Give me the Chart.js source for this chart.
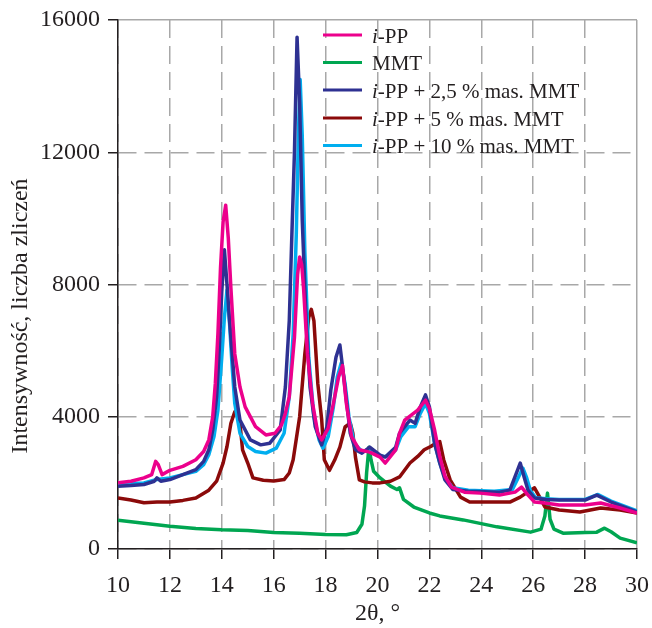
<!DOCTYPE html>
<html>
<head>
<meta charset="utf-8">
<script src="https://cdn.jsdelivr.net/npm/chart.js@4.4.1/dist/chart.umd.min.js"></script>
<style>
  html, body { margin: 0; padding: 0; background: #ffffff; }
  #wrap { width: 652px; height: 628px; }
</style>
</head>
<body>
<div id="wrap"><canvas id="xrd" width="652" height="628"></canvas></div>
<script>
// Dane (2θ w stopniach, intensywność w zliczeniach)
const seriesLabels = ['i-PP', 'MMT', 'i-PP + 2,5 % mas. MMT', 'i-PP + 5 % mas. MMT', 'i-PP + 10 % mas. MMT'];
const seriesColors = ['#ec008c', '#00a651', '#2e3192', '#8b0a0a', '#00aeef'];

const ippX = [10, 10.5, 11, 11.3, 11.45, 11.55, 11.7, 12, 12.5, 13, 13.3, 13.5, 13.65, 13.75, 13.85, 13.95, 14.05, 14.15, 14.25, 14.35, 14.5, 14.7, 14.9, 15.3, 15.7, 16.05, 16.3, 16.45, 16.6, 16.8, 16.92, 17.0, 17.08, 17.15, 17.3, 17.5, 17.7, 17.85, 18.1, 18.3, 18.5, 18.65, 18.8, 19.0, 19.3, 19.7, 20.1, 20.3, 20.7, 20.85, 21.05, 21.3, 21.55, 21.85, 22.0, 22.2, 22.4, 22.6, 22.85, 23.35, 23.95, 24.7, 25.3, 25.55, 25.8, 26.05, 26.45, 27.0, 28.0, 28.6, 29.35, 30];
const ippY = [2000, 2050, 2150, 2250, 2650, 2550, 2250, 2380, 2500, 2700, 2950, 3300, 4000, 5000, 6500, 8500, 9900, 10400, 9400, 7900, 5900, 4900, 4300, 3700, 3450, 3500, 3750, 4100, 4600, 6400, 8300, 8830, 8600, 7900, 5900, 4400, 3500, 3300, 3650, 4400, 5200, 5550, 4400, 3400, 3000, 2930, 2780, 2600, 3000, 3500, 3900, 4050, 4200, 4500, 4250, 3600, 2800, 2200, 1870, 1720, 1690, 1630, 1720, 1870, 1630, 1420, 1390, 1330, 1330, 1390, 1240, 1090];

const mmtX = [10, 11, 12, 13, 14, 15, 16, 17, 18, 18.8, 19.2, 19.4, 19.5, 19.58, 19.67, 19.75, 19.85, 20.1, 20.5, 20.75, 20.85, 21.0, 21.4, 22.0, 22.4, 23.3, 24.6, 25.9, 26.3, 26.45, 26.55, 26.65, 26.8, 27.15, 28.0, 28.45, 28.75, 29.0, 29.35, 30];
const mmtY = [870, 780, 690, 620, 580, 560, 500, 480, 440, 430, 500, 750, 1300, 2300, 3080, 2700, 2350, 2150, 1900, 1800, 1850, 1500, 1270, 1090, 1000, 880, 670, 510, 600, 1000, 1690, 900, 600, 480, 500, 510, 630, 520, 330, 190];

const pp25X = [10, 10.5, 11, 11.4, 11.5, 11.65, 12, 12.5, 13, 13.3, 13.5, 13.65, 13.8, 13.9, 14.0, 14.1, 14.2, 14.3, 14.5, 14.7, 15.1, 15.5, 15.85, 16.25, 16.45, 16.6, 16.7, 16.8, 16.9, 17.0, 17.1, 17.25, 17.4, 17.6, 17.85, 18.05, 18.2, 18.4, 18.55, 18.7, 18.8, 18.95, 19.15, 19.4, 19.7, 20.1, 20.3, 20.7, 20.85, 21.25, 21.45, 21.65, 21.85, 22.0, 22.2, 22.4, 22.6, 22.9, 23.5, 24.7, 25.1, 25.4, 25.5, 25.65, 25.8, 26.05, 26.5, 27.0, 28.0, 28.45, 29.0, 30];
const pp25Y = [1900, 1920, 1950, 2050, 2150, 2050, 2100, 2250, 2400, 2650, 3000, 3600, 4600, 6000, 7800, 9050, 8000, 6900, 4900, 3900, 3300, 3150, 3200, 3600, 4900, 6900, 9500, 12000, 15480, 13500, 9950, 6900, 4900, 3700, 3150, 3700, 4800, 5800, 6170, 5200, 4500, 3500, 3000, 2900, 3080, 2840, 2780, 3080, 3500, 3900, 3800, 4300, 4660, 4300, 3200, 2600, 2090, 1800, 1750, 1720, 1780, 2390, 2600, 2180, 1780, 1540, 1500, 1480, 1480, 1630, 1420, 1120];

const pp5X = [10, 10.5, 11, 11.5, 12, 12.5, 13, 13.5, 13.8, 14.05, 14.2, 14.35, 14.5, 14.6, 14.7, 14.8, 15.0, 15.2, 15.6, 16.0, 16.4, 16.6, 16.75, 17.0, 17.2, 17.35, 17.45, 17.55, 17.7, 17.85, 17.95, 18.15, 18.35, 18.55, 18.75, 18.95, 19.05, 19.15, 19.3, 19.5, 19.8, 20.1, 20.5, 20.85, 21.25, 21.55, 21.8, 22.05, 22.25, 22.4, 22.55, 22.8, 23.2, 23.55, 24.35, 25.1, 25.5, 25.9, 26.05, 26.25, 26.45, 27.0, 27.8, 28.6, 29.35, 30];
const pp5Y = [1540, 1480, 1400, 1420, 1420, 1470, 1540, 1780, 2050, 2600, 3100, 3800, 4150, 4200, 3800, 3000, 2600, 2150, 2080, 2060, 2100, 2300, 2700, 4000, 5900, 7000, 7250, 6900, 5000, 3900, 2700, 2380, 2690, 3080, 3690, 3810, 3500, 2780, 2090, 2030, 2000, 2000, 2050, 2180, 2600, 2800, 3000, 3100, 3200, 3250, 2700, 2090, 1570, 1420, 1420, 1420, 1570, 1780, 1850, 1570, 1270, 1180, 1120, 1240, 1180, 1090];

const pp10X = [10, 10.5, 11, 11.5, 12, 12.5, 13, 13.3, 13.5, 13.7, 13.85, 14.0, 14.1, 14.2, 14.3, 14.4, 14.5, 14.7, 15.0, 15.3, 15.7, 16.1, 16.4, 16.6, 16.75, 16.87, 16.95, 17.02, 17.1, 17.2, 17.35, 17.55, 17.75, 17.9, 18.1, 18.3, 18.45, 18.6, 18.75, 18.9, 19.1, 19.4, 19.7, 20.1, 20.4, 20.7, 20.9, 21.2, 21.45, 21.65, 21.85, 22.0, 22.2, 22.4, 22.6, 22.9, 23.5, 24.5, 25.2, 25.45, 25.6, 25.75, 25.9, 26.1, 26.5, 27.0, 28.0, 28.5, 29.0, 30];
const pp10Y = [1950, 1980, 2000, 2100, 2150, 2250, 2350, 2550, 2850, 3400, 4200, 5800, 7000, 7830, 6800, 5500, 4400, 3500, 3100, 2950, 2900, 3050, 3500, 4600, 6500, 9500, 12500, 14200, 12500, 9000, 5800, 4000, 3300, 3050, 3400, 4300, 5200, 5620, 5000, 4000, 3200, 2950, 3000, 2800, 2800, 3000, 3400, 3700, 3700, 4100, 4400, 4100, 3200, 2600, 2150, 1850, 1780, 1750, 1800, 2200, 2450, 2150, 1750, 1550, 1520, 1500, 1500, 1650, 1450, 1150];

const xTicks = [10, 12, 14, 16, 18, 20, 22, 24, 26, 28, 30];
const yTicks = [0, 4000, 8000, 12000, 16000];

const FONT = "'Liberation Serif', 'Times New Roman', serif";
const INK = '#231f20';

function pts(xs, ys) {
  return xs.map((x, i) => ({ x: x, y: ys[i] }));
}

function series(idx, xs, ys) {
  return {
    label: seriesLabels[idx],
    data: pts(xs, ys),
    borderColor: seriesColors[idx],
    backgroundColor: seriesColors[idx],
    borderWidth: 3.5,
    borderJoinStyle: 'round',
    pointRadius: 0,
    tension: 0,
    fill: false
  };
}

// legenda i tytuł osi Y rysowane ręcznie (kursywa tylko dla "i")
const customText = {
  id: 'customText',
  afterDraw(chart) {
    const ctx = chart.ctx;
    ctx.save();
    // tytuł osi Y
    ctx.translate(21, 316);
    ctx.rotate(-Math.PI / 2);
    ctx.font = '24px ' + FONT;
    ctx.fillStyle = INK;
    ctx.textAlign = 'center';
    ctx.textBaseline = 'middle';
    ctx.fillText('Intensywność, liczba zliczeń', 0, 0);
    ctx.restore();

    // legenda
    ctx.save();
    const rows = [35, 62.5, 90, 118, 145.5];
    seriesLabels.forEach((lab, i) => {
      const y = rows[i];
      ctx.strokeStyle = seriesColors[i];
      ctx.lineWidth = 3;
      ctx.beginPath();
      ctx.moveTo(323, y);
      ctx.lineTo(362, y);
      ctx.stroke();
      ctx.fillStyle = INK;
      ctx.textBaseline = 'alphabetic';
      let x = 372;
      let rest = lab;
      if (lab.startsWith('i-')) {
        ctx.font = 'italic 21px ' + FONT;
        ctx.fillText('i', x, y + 7.5);
        x += ctx.measureText('i').width;
        rest = lab.slice(1);
      }
      ctx.font = '21px ' + FONT;
      ctx.fillText(rest, x, y + 7.5);
    });
    ctx.restore();
  }
};

new Chart(document.getElementById('xrd').getContext('2d'), {
  type: 'line',
  data: {
    datasets: [
      series(0, ippX, ippY),
      series(2, pp25X, pp25Y),
      series(4, pp10X, pp10Y),
      series(3, pp5X, pp5Y),
      series(1, mmtX, mmtY)
    ]
  },
  options: {
    responsive: false,
    animation: false,
    layout: { padding: { top: 20, right: 15, left: 0, bottom: 0 } },
    plugins: {
      legend: { display: false },
      tooltip: { enabled: false }
    },
    scales: {
      x: {
        type: 'linear',
        min: 10,
        max: 30,
        afterFit: (s) => { s.height = 79; s.paddingLeft = 0; s.paddingRight = 0; },
        afterBuildTicks: (s) => { s.ticks = xTicks.map(v => ({ value: v })); },
        ticks: {
          font: { family: FONT, size: 24 },
          color: INK,
          padding: 12,
          maxRotation: 0,
          callback: (v) => String(v)
        },
        grid: {
          color: '#a8a8a8',
          lineWidth: 1.5,
          tickLength: 10,
          tickColor: INK,
          tickWidth: 1.5
        },
        border: {
          color: INK,
          width: 1.5,
          dash: (c) => (c.index === xTicks.length - 1 ? [] : [18, 8])
        },
        title: {
          display: true,
          text: '2θ, °',
          font: { family: FONT, size: 24 },
          color: INK,
          padding: { top: 0, bottom: 0 }
        }
      },
      y: {
        min: 0,
        max: 16000,
        afterFit: (s) => { s.width = 118; s.paddingTop = 0; s.paddingBottom = 0; },
        afterBuildTicks: (s) => { s.ticks = yTicks.map(v => ({ value: v })); },
        ticks: {
          font: { family: FONT, size: 24 },
          color: INK,
          padding: 8,
          callback: (v) => String(v)
        },
        grid: {
          color: '#a8a8a8',
          lineWidth: 1.5,
          tickLength: 10,
          tickColor: INK,
          tickWidth: 1.5
        },
        border: {
          color: INK,
          width: 1.5,
          dash: (c) => (c.index === yTicks.length - 1 ? [] : [18, 8])
        }
      }
    }
  },
  plugins: [customText]
});
</script>
</body>
</html>
